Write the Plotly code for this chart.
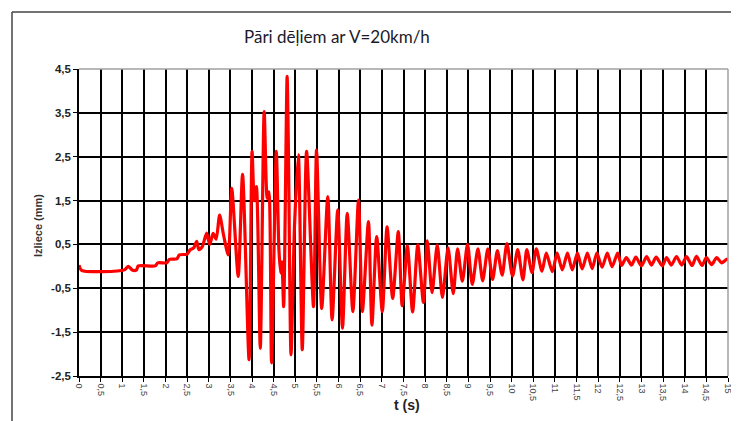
import plotly.graph_objects as go

# time (s) and deflection (mm) (extremes and step points)
t_s = [0.00, 0.06, 1.05, 1.14, 1.24, 1.33, 1.37, 1.76, 1.82, 2.03, 2.09, 2.26, 2.32, 2.50,
       2.57, 2.65, 2.72, 2.77, 2.85, 2.95, 3.02, 3.10, 3.17, 3.25, 3.34, 3.45, 3.53, 3.68,
       3.78, 3.93, 4.00, 4.05, 4.10, 4.19, 4.28, 4.35, 4.39, 4.45, 4.56, 4.62, 4.66, 4.69,
       4.73, 4.81, 4.84, 4.90, 4.98, 5.07, 5.16, 5.26, 5.42, 5.49, 5.61, 5.75, 5.85, 5.98,
       6.09, 6.20, 6.33, 6.46, 6.55, 6.69, 6.77, 6.88, 7.01, 7.12, 7.25, 7.38, 7.47, 7.59,
       7.71, 7.83, 7.96, 8.05, 8.16, 8.28, 8.40, 8.53, 8.65, 8.75, 8.86, 8.98, 9.09, 9.22,
       9.33, 9.45, 9.56, 9.67, 9.78, 9.89, 10.02, 10.14, 10.26, 10.35, 10.47, 10.57, 10.70,
       10.80, 10.94, 11.05, 11.17, 11.29, 11.40, 11.52, 11.63, 11.75, 11.86, 11.97, 12.09,
       12.21, 12.32, 12.45, 12.54, 12.65, 12.77, 12.87, 13.00, 13.12, 13.23, 13.34, 13.48,
       13.58, 13.69, 13.81, 13.93, 14.04, 14.17, 14.27, 14.40, 14.50, 14.62, 14.74, 14.85,
       14.97, 15.00]
deflection_mm = [0.03, -0.09, -0.08, 0.00, -0.09, -0.08, 0.01, 0.01, 0.08, 0.08, 0.16, 0.17, 0.26, 0.28,
                 0.38, 0.42, 0.57, 0.38, 0.45, 0.76, 0.50, 0.75, 0.62, 1.17, 0.72, 0.26, 1.78, -0.23,
                 2.10, -2.13, 2.62, 1.50, 1.82, -1.87, 3.53, 1.55, 1.70, -2.20, 2.62, 0.40, -0.15, 0.10,
                 -0.92, 4.33, 2.70, -2.02, 0.90, 2.54, -1.90, 2.62, -0.92, 2.65, -0.96, 1.59, -1.22, 1.29,
                 -1.41, 1.21, -1.03, 1.51, -1.03, 1.02, -1.34, 0.68, -1.03, 0.90, -0.73, 0.79, -0.90, 0.47,
                 -1.04, 0.49, -0.82, 0.58, -0.60, 0.49, -0.71, 0.42, -0.62, 0.40, -0.34, 0.50, -0.41, 0.40,
                 -0.33, 0.40, -0.30, 0.36, -0.20, 0.52, -0.22, 0.38, -0.31, 0.38, -0.14, 0.40, -0.11,
                 0.30, -0.12, 0.30, -0.08, 0.30, -0.08, 0.30, -0.06, 0.30, -0.05, 0.30, -0.02,
                 0.30, -0.01, 0.30, 0.02, 0.20, 0.03, 0.21, 0.01, 0.22, 0.03, 0.21, 0.01,
                 0.20, 0.03, 0.22, 0.03, 0.22, 0.02, 0.23, 0.02, 0.20, 0.04, 0.20, 0.08,
                 0.16, 0.16]

y_tick_vals = [-2.5, -1.5, -0.5, 0.5, 1.5, 2.5, 3.5, 4.5]
y_tick_text = ["-2,5", "-1,5", "-0,5", "0,5", "1,5", "2,5", "3,5", "4,5"]
x_tick_vals = [i * 0.5 for i in range(31)]
x_tick_text = [("%g" % v).replace(".", ",") for v in x_tick_vals]

title_text = "Pāri dēļiem ar V=20km/h"
x_title = "t (s)"
y_title = "Izliece (mm)"

# page has an 8px body margin: the figure is placed at (8, 8)
OFF = 8
W, H = 739 - OFF, 421 - OFF
L, R, T, B = 79 - OFF, 11, 69 - OFF, 45
PW, PH = W - L - R, H - T - B


def px(x):
    return (x - OFF - L) / PW


def py(y):
    return (H - B - (y - OFF)) / PH


fig = go.Figure()
fig.add_trace(go.Scatter(
    x=t_s, y=deflection_mm, mode="lines",
    line=dict(color="#ff0000", width=3.2, shape="spline", smoothing=0.7),
    showlegend=False, hoverinfo="skip",
))

fig.update_layout(
    width=W, height=H,
    margin=dict(l=L, r=R, t=T, b=B, autoexpand=False),
    paper_bgcolor="white", plot_bgcolor="white",
    font=dict(family="Liberation Sans, Arial, sans-serif", color="#222222"),
    xaxis=dict(
        range=[0, 15], tickmode="array", tickvals=x_tick_vals, ticktext=x_tick_text,
        tickangle=90, tickfont=dict(size=9, color="#444444"),
        showgrid=True, gridcolor="#000000", gridwidth=1.6,
        showline=True, linecolor="#000000", linewidth=1.6,
        ticks="outside", ticklen=4, tickcolor="#000000",
        zeroline=False, automargin=False,
    ),
    yaxis=dict(
        range=[-2.5, 4.5], tickmode="array", tickvals=y_tick_vals, ticktext=y_tick_text,
        tickfont=dict(size=11.5, color="#222222", weight="bold"),
        showgrid=True, gridcolor="#000000", gridwidth=1.6,
        showline=True, linecolor="#000000", linewidth=1.6,
        ticks="outside", ticklen=4, tickcolor="#000000",
        zeroline=False, automargin=False,
    ),
)

# title and axis titles
fig.add_annotation(text=title_text, xref="paper", yref="paper", x=px(337), y=py(37),
                   xanchor="center", yanchor="middle", showarrow=False,
                   font=dict(family="Lato, Open Sans, sans-serif", size=17, color="#1a1a2a"))
fig.add_annotation(text="<b>" + x_title + "</b>", xref="paper", yref="paper", x=px(407), y=py(405),
                   xanchor="center", yanchor="middle", showarrow=False,
                   font=dict(size=14, color="#222222"))
fig.add_annotation(text="<b>" + y_title + "</b>", xref="paper", yref="paper", x=px(38), y=py(226),
                   xanchor="center", yanchor="middle", showarrow=False, textangle=-90,
                   font=dict(size=11, color="#333333"))

# grey plot-area border on top and right
fig.add_shape(type="line", xref="paper", yref="paper", x0=0, x1=1, y0=1, y1=1,
              line=dict(color="#a0a0a0", width=1.5), layer="above")
fig.add_shape(type="line", xref="paper", yref="paper", x0=1, x1=1, y0=0, y1=1,
              line=dict(color="#a0a0a0", width=1.5), layer="above")
# outer chart frame (top and left)
fig.add_shape(type="line", xref="paper", yref="paper",
              x0=px(12), x1=px(760), y0=py(12), y1=py(12),
              line=dict(color="#444444", width=1.5))
fig.add_shape(type="line", xref="paper", yref="paper",
              x0=px(12), x1=px(12), y0=py(12), y1=py(440),
              line=dict(color="#444444", width=1.5))

fig.write_html("out.html")
